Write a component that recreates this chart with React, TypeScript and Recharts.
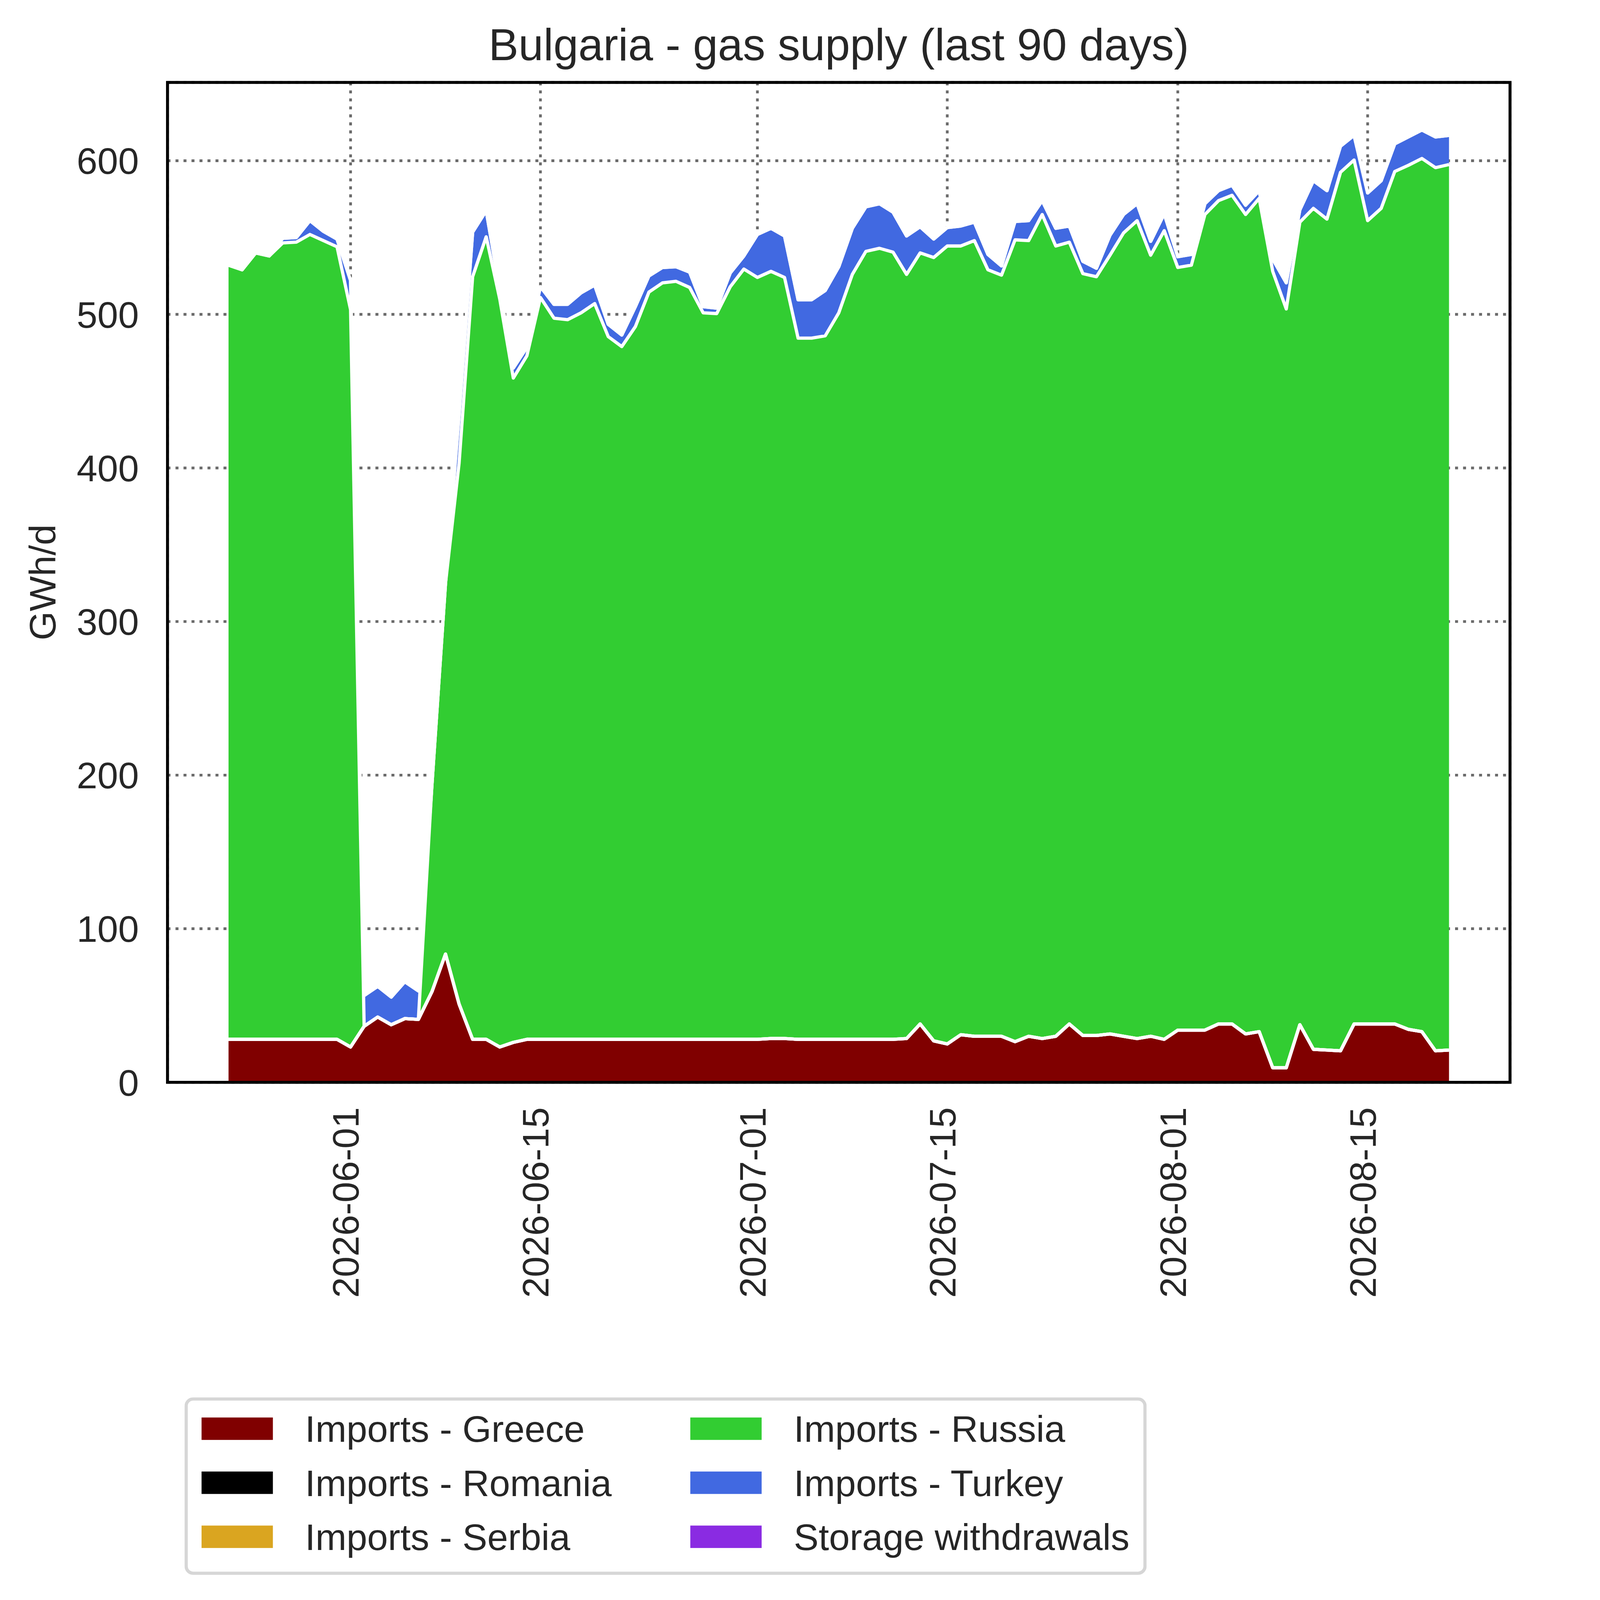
import React from 'react';
import { AreaChart, Area, XAxis, YAxis, CartesianGrid, ReferenceArea, Legend } from 'recharts';

const START_DATE = '2026-05-23';

const greece = [
  28, 28, 28, 28, 28, 28, 28, 28, 28, 23,
  36.5, 42.5, 37.5, 41.5, 41,
  59, 83.5, 51, 28, 28,
  23, 26, 28, 28, 28,
  28, 28, 28, 28, 28,
  28, 28, 28, 28, 28,
  28, 28, 28, 28, 28,
  28.5, 28.5, 28, 28, 28,
  28, 28, 28, 28, 28,
  28.5, 38, 27, 25, 31,
  30, 30, 30, 26.5, 30,
  28.5, 30, 38, 30.5, 30.5,
  31.5, 30, 28.5, 30, 28,
  34, 34, 34, 38, 38,
  31.5, 33, 9.5, 9.5, 37.5,
  21.5, 21, 20.5, 38, 38,
  38, 38, 34.5, 33, 20.5,
  21,
];

const romania = [
  0, 0, 0, 0, 0, 0, 0, 0, 0, 0, 0, 0, 0, 0, 0, 0, 0, 0, 0, 0,
  0, 0, 0, 0, 0, 0, 0, 0, 0, 0, 0, 0, 0, 0, 0, 0, 0, 0, 0, 0,
  0, 0, 0, 0, 0, 0, 0, 0, 0, 0, 0, 0, 0, 0, 0, 0, 0, 0, 0, 0,
  0, 0, 0, 0, 0, 0, 0, 0, 0, 0, 0, 0, 0, 0, 0, 0, 0, 0, 0, 0,
  0, 0, 0, 0, 0, 0, 0, 0, 0, 0, 0,
];

const serbia = [
  0, 0, 0, 0, 0, 0, 0, 0, 0, 0, 0, 0, 0, 0, 0, 0, 0, 0, 0, 0,
  0, 0, 0, 0, 0, 0, 0, 0, 0, 0, 0, 0, 0, 0, 0, 0, 0, 0, 0, 0,
  0, 0, 0, 0, 0, 0, 0, 0, 0, 0, 0, 0, 0, 0, 0, 0, 0, 0, 0, 0,
  0, 0, 0, 0, 0, 0, 0, 0, 0, 0, 0, 0, 0, 0, 0, 0, 0, 0, 0, 0,
  0, 0, 0, 0, 0, 0, 0, 0, 0, 0, 0,
];

const russia = [
  504, 501, 512, 510, 518.5, 519, 524, 520, 516, 480,
  0, 0, 0, 0, 0,
  135, 241.5, 352, 496.5, 522.5,
  487, 432.5, 445, 483, 469.5,
  468.5, 473, 479, 457.5, 451,
  464, 486.5, 492.5, 493.5, 489.5,
  473, 472.5, 490, 501.5, 496,
  499.5, 495.5, 456.5, 456.5, 458,
  473, 498, 513, 515, 512.5,
  497.5, 502, 510, 519.5, 513.5,
  518, 499, 495.5, 522, 518,
  536.5, 514.5, 509, 496, 494,
  507, 523, 532.5, 508.5, 526.5,
  496.5, 498, 531, 536, 539.5,
  533.5, 542.5, 518.5, 494, 522.5,
  547.5, 541, 572, 562.5, 523,
  531, 555, 562.5, 568.5, 575,
  576.5,
];

const turkey = [
  0, 0, 0, 0, 3, 3, 9, 6, 5, 19,
  20, 20, 18, 24, 18.5,
  0, 0, 31, 29, 17,
  6, 6.5, 5.5, 7, 9,
  10, 13, 12, 8, 7.5,
  13, 10.5, 10, 9.5, 10,
  4, 3.5, 9, 8.5, 28,
  28, 27, 25, 25, 29.5,
  30, 30, 29, 29, 26,
  25, 17, 12, 12, 13,
  12, 10, 6, 12, 13,
  9, 11.5, 10.5, 8, 5.5,
  13, 12, 11, 9, 11,
  7, 7, 7, 6.5, 6.5,
  6, 5, 8, 17, 8,
  18, 18.5, 17, 16, 18,
  18, 18, 18.5, 18.5, 20,
  19,
];

const storage = [
  0, 0, 0, 0, 0, 0, 0, 0, 0, 0, 0, 0, 0, 0, 0, 0, 0, 0, 0, 0,
  0, 0, 0, 0, 0, 0, 0, 0, 0, 0, 0, 0, 0, 0, 0, 0, 0, 0, 0, 0,
  0, 0, 0, 0, 0, 0, 0, 0, 0, 0, 0, 0, 0, 0, 0, 0, 0, 0, 0, 0,
  0, 0, 0, 0, 0, 0, 0, 0, 0, 0, 0, 0, 0, 0, 0, 0, 0, 0, 0, 0,
  0, 0, 0, 0, 0, 0, 0, 0, 0, 0, 0,
];

const xTickLabels = ['2026-06-01', '2026-06-15', '2026-07-01', '2026-07-15', '2026-08-01', '2026-08-15'];
const yTicks = [0, 100, 200, 300, 400, 500, 600];

const series = [
  { key: 'greece', name: 'Imports - Greece', color: '#800000', values: greece },
  { key: 'romania', name: 'Imports - Romania', color: '#000000', values: romania },
  { key: 'serbia', name: 'Imports - Serbia', color: '#DAA520', values: serbia },
  { key: 'russia', name: 'Imports - Russia', color: '#32CD32', values: russia },
  { key: 'turkey', name: 'Imports - Turkey', color: '#4169E1', values: turkey },
  { key: 'storage', name: 'Storage withdrawals', color: '#8A2BE2', values: storage },
];

function buildDates(start: string, n: number): string[] {
  const [y, m, d] = start.split('-').map(Number);
  const base = Date.UTC(y, m - 1, d);
  const out: string[] = [];
  for (let i = 0; i < n; i++) {
    out.push(new Date(base + i * 86400000).toISOString().slice(0, 10));
  }
  return out;
}

const dates = buildDates(START_DATE, greece.length);

const data = dates.map((date, i) => {
  const row: Record<string, number | string> = { day: i, date };
  series.forEach((s) => {
    row[s.key] = s.values[i];
  });
  return row;
});

const totals = dates.map((_, i) => series.reduce((acc, s) => acc + s.values[i], 0));
const yMax = Math.max(...totals) * 1.05;
const nLast = dates.length - 1;
const xDomain = [-0.05 * nLast, nLast * 1.05];
const xTicks = xTickLabels.map((l) => dates.indexOf(l));

const FONT = "'Liberation Sans', Arial, Helvetica, sans-serif";
const TEXT = '#262626';

const W = 5675;
const H = 5922;
const PLOT_LEFT = 620;
const PLOT_RIGHT = 5589;
const PLOT_TOP = 305;
const PLOT_BOTTOM = 4006;

const XTick = (props: any) => {
  const { x, y, payload } = props;
  const bx = x + 30;
  const by = y + 92;
  return (
    <text
      x={bx}
      y={by}
      transform={`rotate(-90 ${bx} ${by})`}
      textAnchor="end"
      fontSize={138}
      fontFamily={FONT}
      fill={TEXT}
    >
      {dates[payload.value]}
    </text>
  );
};

const YTick = (props: any) => {
  const { x, y, payload } = props;
  return (
    <text x={x - 106} y={y + 49} textAnchor="end" fontSize={138} fontFamily={FONT} fill={TEXT}>
      {payload.value}
    </text>
  );
};

const col1 = ['greece', 'romania', 'serbia'];
const col2 = ['russia', 'turkey', 'storage'];

const LegendBox = () => {
  const bw = 3561;
  const bh = 657;
  const items: React.ReactNode[] = [];
  [col1, col2].forEach((col, ci) => {
    col.forEach((k, ri) => {
      const s = series.find((q) => q.key === k)!;
      const px = ci === 0 ? 63 : 1872;
      const cy = 116 + ri * 200;
      items.push(
        <g key={k}>
          <rect x={px} y={cy - 41.5} width={264} height={83} fill={s.color} />
          <text x={px + 383} y={cy + 49} fontSize={138} fontFamily={FONT} fill={TEXT}>
            {s.name}
          </text>
        </g>
      );
    });
  });
  return (
    <svg width={bw} height={bh} style={{ display: 'block' }}>
      <rect x={6} y={6} width={bw - 12} height={bh - 12} rx={26} ry={26} fill="#ffffff" stroke="#d6d6d6" strokeWidth={12} />
      {items}
    </svg>
  );
};

function fitScale(): number {
  if (typeof window === 'undefined') return 1;
  const s = Math.min(1, window.innerWidth / W, window.innerHeight / H);
  return s > 0 ? s : 1;
}

export default function App() {
  const s = fitScale();
  return (
    <div style={{ position: 'relative', margin: -8, width: W * s, height: H * s, overflow: 'hidden', background: '#ffffff' }}>
      <div style={{ position: 'absolute', left: 0, top: 0, width: W, height: H, transform: `scale(${s})`, transformOrigin: '0 0' }}>
        <AreaChart
          width={W}
          height={H}
          data={data}
          margin={{ top: PLOT_TOP, right: W - PLOT_RIGHT, bottom: 0, left: 0 }}
        >
          <CartesianGrid stroke="#6b6b6b" strokeWidth={10} strokeDasharray="11 18.6" />
          <XAxis
            dataKey="day"
            type="number"
            domain={xDomain}
            ticks={xTicks}
            interval={0}
            height={H - PLOT_BOTTOM}
            tickSize={0}
            tickMargin={0}
            tickLine={false}
            axisLine={false}
            tick={<XTick />}
            allowDataOverflow
          />
          <YAxis
            type="number"
            domain={[0, yMax]}
            ticks={yTicks}
            interval={0}
            width={PLOT_LEFT}
            tickSize={0}
            tickMargin={0}
            tickLine={false}
            axisLine={false}
            tick={<YTick />}
            allowDataOverflow
          />
          {series.map((sr) => (
            <Area
              key={`fill-${sr.key}`}
              type="linear"
              dataKey={sr.key}
              name={sr.name}
              stackId="supply"
              fill={sr.color}
              fillOpacity={1}
              stroke="none"
              dot={false}
              activeDot={false}
              isAnimationActive={false}
              legendType="none"
            />
          ))}
          {series.map((sr) => (
            <Area
              key={`edge-${sr.key}`}
              type="linear"
              dataKey={sr.key}
              name={`${sr.name} edge`}
              stackId="edges"
              fill="none"
              fillOpacity={0}
              stroke="#ffffff"
              strokeWidth={12}
              strokeLinejoin="round"
              dot={false}
              activeDot={false}
              isAnimationActive={false}
              legendType="none"
            />
          ))}
          <ReferenceArea
            x1={xDomain[0]}
            x2={xDomain[1]}
            y1={0}
            y2={yMax}
            fill="none"
            fillOpacity={0}
            stroke="#000000"
            strokeWidth={11}
            ifOverflow="visible"
          />
          <Legend
            layout="horizontal"
            verticalAlign="middle"
            align="center"
            wrapperStyle={{ left: 683, top: 5172, width: 3561, height: 657 }}
            content={() => <LegendBox />}
          />
          <text x={(PLOT_LEFT + PLOT_RIGHT) / 2} y={223} textAnchor="middle" fontSize={166} fontFamily={FONT} fill={TEXT}>
            Bulgaria - gas supply (last 90 days)
          </text>
          <text
            x={205}
            y={(PLOT_TOP + PLOT_BOTTOM) / 2}
            transform={`rotate(-90 205 ${(PLOT_TOP + PLOT_BOTTOM) / 2})`}
            textAnchor="middle"
            fontSize={138}
            fontFamily={FONT}
            fill={TEXT}
          >
            GWh/d
          </text>
        </AreaChart>
      </div>
    </div>
  );
}
